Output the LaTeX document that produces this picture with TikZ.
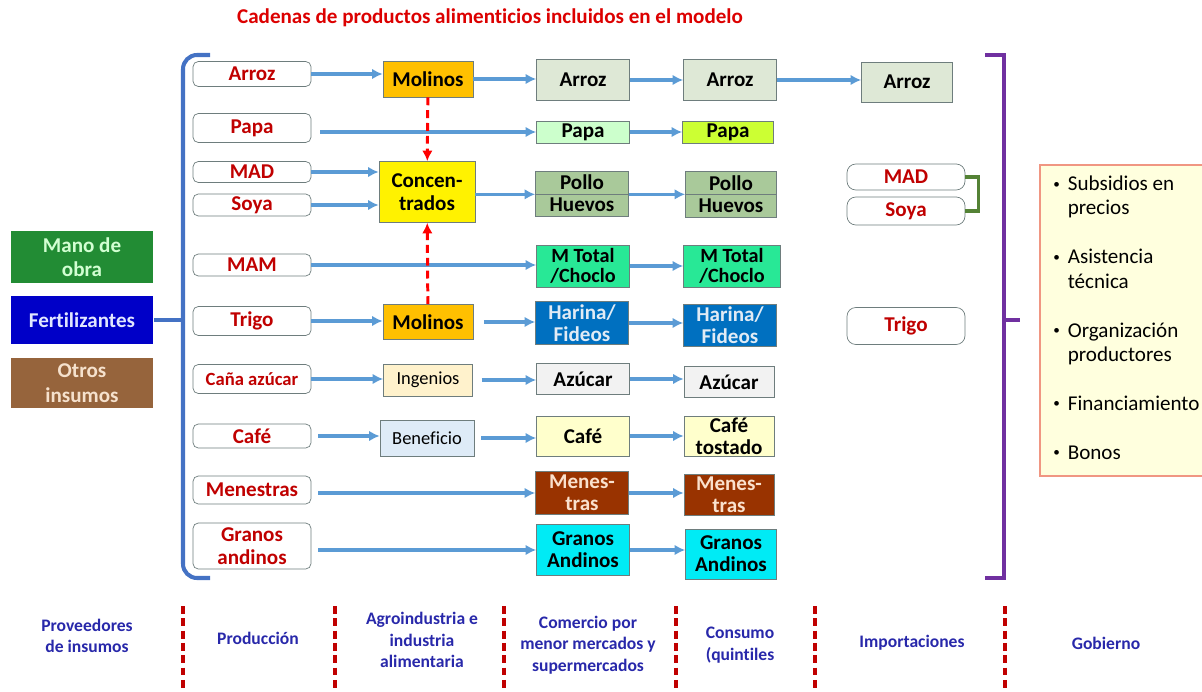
\documentclass[tikz,border=0pt]{standalone}
\usepackage{fontspec}
\setmainfont{Carlito}[Ligatures=NoCommon]
\usetikzlibrary{arrows.meta}

\definecolor{darkred}{RGB}{192,0,0}
\definecolor{titlered}{RGB}{220,0,0}
\definecolor{stageblue}{RGB}{40,40,170}
\definecolor{flowblue}{RGB}{91,155,213}
\definecolor{brackblue}{RGB}{68,114,196}
\definecolor{boxgray}{RGB}{110,125,125}
\definecolor{govpurple}{RGB}{112,48,160}
\definecolor{linkgreen}{RGB}{84,130,53}

\newcommand{\gobullet}{\raisebox{0.25ex}{\fontsize{7.5}{8}\selectfont\textbullet}}

\begin{document}
\begin{tikzpicture}[x=0.02cm, y=-0.02cm]
    % Define styles
    \tikzset{
        prodbox/.style={
            draw=boxgray,
            fill=white,
            rounded corners=3pt,
            minimum width=2.36cm,
            inner sep=0.5pt,
            align=center,
            text=darkred,
            font=\bfseries\fontsize{12}{13}\selectfont
        },
        agrobox/.style={
            draw=boxgray,
            minimum width=1.8cm,
            inner sep=0.5pt,
            align=center,
            font=\bfseries\fontsize{12}{13}\selectfont
        },
        goodbox/.style={
            draw=boxgray,
            minimum width=1.86cm,
            inner sep=0pt,
            align=center,
            font=\bfseries\fontsize{12}{12.5}\selectfont
        },
        supplier/.style={
            minimum width=2.86cm,
            inner sep=1pt,
            align=center,
            font=\bfseries\fontsize{12}{14}\selectfont
        },
        arrow/.style={
            -{Latex[length=6pt,width=6pt]},
            line width=1.8pt,
            draw=flowblue
        },
        feed/.style={
            -{Latex[length=6pt,width=6pt]},
            line width=1.7pt,
            draw=red,
            dash pattern=on 4.5pt off 2.8pt
        },
        stage/.style={
            align=center,
            text=stageblue,
            font=\bfseries\fontsize{10}{12.3}\selectfont
        },
        divider/.style={
            draw=darkred,
            line width=2.3pt,
            dash pattern=on 4.5pt off 2.5pt
        }
    }

    \useasboundingbox (0,0) rectangle (1202,692);

    % Title
    \node[text=titlered, font=\bfseries\fontsize{12}{14}\selectfont] (title) at (490,18) {Cadenas de productos alimenticios incluidos en el modelo};

    % Input suppliers
    \node[supplier, fill={rgb,255:red,34;green,140;blue,52}, text={rgb,255:red,210;green,255;blue,210}, minimum height=1.04cm] (mano) at (82,257) {Mano de\\obra};
    \node[supplier, fill={rgb,255:red,0;green,0;blue,200}, text={rgb,255:red,225;green,230;blue,255}, minimum height=0.96cm] (fert) at (82,320) {Fertilizantes};
    \node[supplier, fill={rgb,255:red,150;green,100;blue,60}, text={rgb,255:red,245;green,225;blue,205}, minimum height=1.0cm] (otros) at (82,383) {Otros\\insumos};

    % Production
    \node[prodbox, minimum height=0.5cm] (arrozP) at (252,74) {Arroz};
    \node[prodbox, minimum height=0.58cm] (papaP) at (252,128) {Papa};
    \node[prodbox, minimum height=0.42cm] (madP) at (252,172) {MAD};
    \node[prodbox, minimum height=0.44cm] (soyaP) at (252,205) {Soya};
    \node[prodbox, minimum height=0.44cm] (mamP) at (252,265) {MAM};
    \node[prodbox, minimum height=0.58cm] (trigoP) at (252,321) {Trigo};
    \node[prodbox, minimum height=0.58cm, font=\bfseries\fontsize{10.6}{12}\selectfont] (canaP) at (252,379) {Caña azúcar};
    \node[prodbox, minimum height=0.48cm] (cafeP) at (252,436) {Café};
    \node[prodbox, minimum height=0.56cm] (menP) at (252,490) {Menestras};
    \node[prodbox, minimum height=0.92cm] (granP) at (252,546) {Granos\\andinos};

    % Bracket round production
    \coordinate (brk) at (183,320);
    \draw[brackblue, line width=2.3pt, rounded corners=8pt] (210,55) -- (183,55) -- (183,578) -- (210,578);
    \draw[brackblue, line width=2.3pt] (fert.east) -- (brk);

    % Agroindustry
    \node[agrobox, fill={rgb,255:red,255;green,192;blue,0}, minimum height=0.72cm] (molA) at (428,79) {Molinos};
    \node[agrobox, fill=yellow, minimum width=1.92cm, minimum height=1.22cm] (conc) at (427,192) {Concen-\\trados};
    \node[agrobox, fill={rgb,255:red,255;green,192;blue,0}, minimum height=0.7cm] (molT) at (428,322) {Molinos};
    \node[agrobox, fill={rgb,255:red,255;green,242;blue,204}, minimum width=1.78cm, minimum height=0.64cm, font=\fontsize{10.5}{12}\selectfont] (ing) at (428,380) {Ingenios};
    \node[agrobox, fill={rgb,255:red,222;green,235;blue,247}, minimum width=1.88cm, minimum height=0.72cm, font=\fontsize{10.5}{12}\selectfont] (benef) at (427,438) {Beneficio};

    % Retail
    \node[goodbox, fill={rgb,255:red,222;green,232;blue,214}, minimum height=0.82cm] (arrozC) at (583,80) {Arroz};
    \node[goodbox, fill={rgb,255:red,204;green,255;blue,204}, minimum height=0.44cm] (papaC) at (583,132) {Papa};
    \node[goodbox, fill={rgb,255:red,169;green,201;blue,154}, minimum height=0.46cm] (polloC) at (582,182.5) {Pollo};
    \node[goodbox, fill={rgb,255:red,169;green,201;blue,154}, minimum height=0.44cm] (huevoC) at (582,205) {Huevos};
    \node[goodbox, fill={rgb,255:red,40;green,232;blue,150}, minimum height=0.84cm, font=\bfseries\fontsize{11.5}{11.5}\selectfont] (maizC) at (583,266) {M Total\\/Choclo};
    \node[goodbox, fill={rgb,255:red,0;green,112;blue,192}, text={rgb,255:red,225;green,235;blue,245}, minimum height=0.86cm] (harC) at (582,323) {Harina/\\Fideos};
    \node[goodbox, fill={rgb,255:red,242;green,242;blue,242}, minimum height=0.62cm] (azuC) at (583,379) {Azúcar};
    \node[goodbox, fill={rgb,255:red,255;green,255;blue,204}, minimum height=0.8cm] (cafeC) at (583,436) {Café};
    \node[goodbox, fill={rgb,255:red,153;green,51;blue,0}, text={rgb,255:red,250;green,225;blue,205}, minimum height=0.86cm] (menC) at (582,493) {Menes-\\tras};
    \node[goodbox, fill={rgb,255:red,0;green,235;blue,245}, minimum height=1.02cm] (granC) at (583,550) {Granos\\Andinos};

    % Consumption
    \node[goodbox, fill={rgb,255:red,222;green,232;blue,214}, minimum height=0.82cm] (arrozK) at (730,80) {Arroz};
    \node[goodbox, fill={rgb,255:red,204;green,255;blue,51}, minimum width=1.82cm, minimum height=0.44cm] (papaK) at (728,132) {Papa};
    \node[goodbox, fill={rgb,255:red,169;green,201;blue,154}, minimum width=1.82cm, minimum height=0.46cm] (polloK) at (731,183) {Pollo};
    \node[goodbox, fill={rgb,255:red,169;green,201;blue,154}, minimum width=1.82cm, minimum height=0.46cm] (huevoK) at (731,206) {Huevos};
    \node[goodbox, fill={rgb,255:red,40;green,232;blue,150}, minimum width=1.94cm, minimum height=0.84cm, font=\bfseries\fontsize{11.5}{11.5}\selectfont] (maizK) at (732,266) {M Total\\/Choclo};
    \node[goodbox, fill={rgb,255:red,0;green,112;blue,192}, text={rgb,255:red,225;green,235;blue,245}, minimum height=0.84cm] (harK) at (730,325) {Harina/\\Fideos};
    \node[goodbox, fill={rgb,255:red,242;green,242;blue,242}, minimum width=1.8cm, minimum height=0.62cm] (azuK) at (729,382) {Azúcar};
    \node[goodbox, fill={rgb,255:red,255;green,255;blue,204}, minimum width=1.8cm, minimum height=0.8cm] (cafeK) at (729,436) {Café\\tostado};
    \node[goodbox, fill={rgb,255:red,153;green,51;blue,0}, text={rgb,255:red,250;green,225;blue,205}, minimum width=1.8cm, minimum height=0.82cm] (menK) at (729,495) {Menes-\\tras};
    \node[goodbox, fill={rgb,255:red,0;green,235;blue,245}, minimum width=1.82cm, minimum height=1.0cm] (granK) at (731,554) {Granos\\Andinos};

    % Imports
    \node[goodbox, fill={rgb,255:red,222;green,232;blue,214}, minimum width=1.82cm, minimum height=0.8cm] (arrozI) at (907,82) {Arroz};
    \node[prodbox, rounded corners=5pt, minimum height=0.52cm] (madI) at (906,177) {MAD};
    \node[prodbox, rounded corners=5pt, minimum height=0.56cm] (soyaI) at (906,211) {Soya};
    \node[prodbox, rounded corners=5pt, minimum height=0.74cm] (trigoI) at (906,326) {Trigo};
    \draw[linkgreen, line width=2pt] (madI.east) -- ++(13,0) |- (soyaI.east);

    % Government
    \coordinate (gtick) at (1020,320);
    \draw[govpurple, line width=2.3pt] (985,55) -- (1004,55) -- (1004,578) -- (985,578);
    \draw[govpurple, line width=2.3pt] (1004,320) -- (gtick);
    \draw[draw={rgb,255:red,240;green,150;blue,130}, fill={rgb,255:red,255;green,255;blue,222}, line width=0.8pt] (1040,165) rectangle (1206,476);
    \node[anchor=west, inner sep=0pt, font=\fontsize{12}{13.9}\selectfont] (gob) at (1053,320) {%
        \begin{tabular}{@{}l@{\hspace{4.5pt}}l@{}}
            \gobullet & Subsidios en\\
                      & precios\\
                      & \\
            \gobullet & Asistencia\\
                      & técnica\\
                      & \\
            \gobullet & Organización\\
                      & productores\\
                      & \\
            \gobullet & Financiamiento\\
                      & \\
            \gobullet & Bonos
        \end{tabular}};

    % Flows
    \draw[arrow] (arrozP) -- (arrozP -| molA.west);
    \draw[arrow] (molA) -- (molA -| arrozC.west);
    \draw[arrow] (arrozC) -- (arrozC -| arrozK.west);
    \draw[arrow] (arrozK) -- (arrozK -| arrozI.west);
    \draw[arrow, shorten <=5pt] (papaP.east |- papaC) -- (papaC.west);
    \draw[arrow] (papaC) -- (papaC -| papaK.west);
    \draw[arrow] (madP) -- (madP -| conc.west);
    \draw[arrow] (soyaP) -- (soyaP -| conc.west);
    \draw[arrow] (conc.east |- polloC.south) -- (polloC.south west);
    \draw[arrow] (polloC.south east) -- (polloC.south -| polloK.west);
    \draw[arrow] (mamP) -- (mamP -| maizC.west);
    \draw[arrow] (maizC) -- (maizC -| maizK.west);
    \draw[arrow] (trigoP) -- (trigoP -| molT.west);
    \draw[arrow, shorten <=6pt] (molT) -- (molT -| harC.west);
    \draw[arrow] (harC) -- (harC -| harK.west);
    \draw[arrow] (canaP) -- (canaP -| ing.west);
    \draw[arrow, shorten <=5pt] (ing) -- (ing -| azuC.west);
    \draw[arrow] (azuC) -- (azuC -| azuK.west);
    \draw[arrow, shorten <=4pt] (cafeP) -- (cafeP -| benef.west);
    \draw[arrow, shorten <=4pt] (benef) -- (benef -| cafeC.west);
    \draw[arrow] (cafeC) -- (cafeC -| cafeK.west);
    \draw[arrow, shorten <=4pt] (menP.east |- menC) -- (menC.west);
    \draw[arrow] (menC) -- (menC -| menK.west);
    \draw[arrow, shorten <=4pt] (granP.east |- granC) -- (granC.west);
    \draw[arrow] (granC) -- (granC -| granK.west);

    % Feed inputs to concentrates
    \draw[feed] (molA) -- (conc);
    \draw[feed] (molT) -- (conc);

    % Stages
    \node[stage] (sprov) at (87,636) {Proveedores\\de insumos};
    \node[stage] (sprod) at (258,638) {Producción};
    \node[stage] (sagro) at (422,640) {Agroindustria e\\industria\\alimentaria};
    \node[stage] (scom) at (588,645) {Comercio por\\menor mercados y\\supermercados};
    \node[stage] (scons) at (740,645) {Consumo\\(quintiles};
    \node[stage] (simp) at (912,643) {Importaciones};
    \node[stage] (sgob) at (1106,643) {Gobierno};
    \foreach \xd in {183,335,504,676,815,1005}
        \draw[divider] (\xd,606) -- (\xd,692);

\end{tikzpicture}
\end{document}
